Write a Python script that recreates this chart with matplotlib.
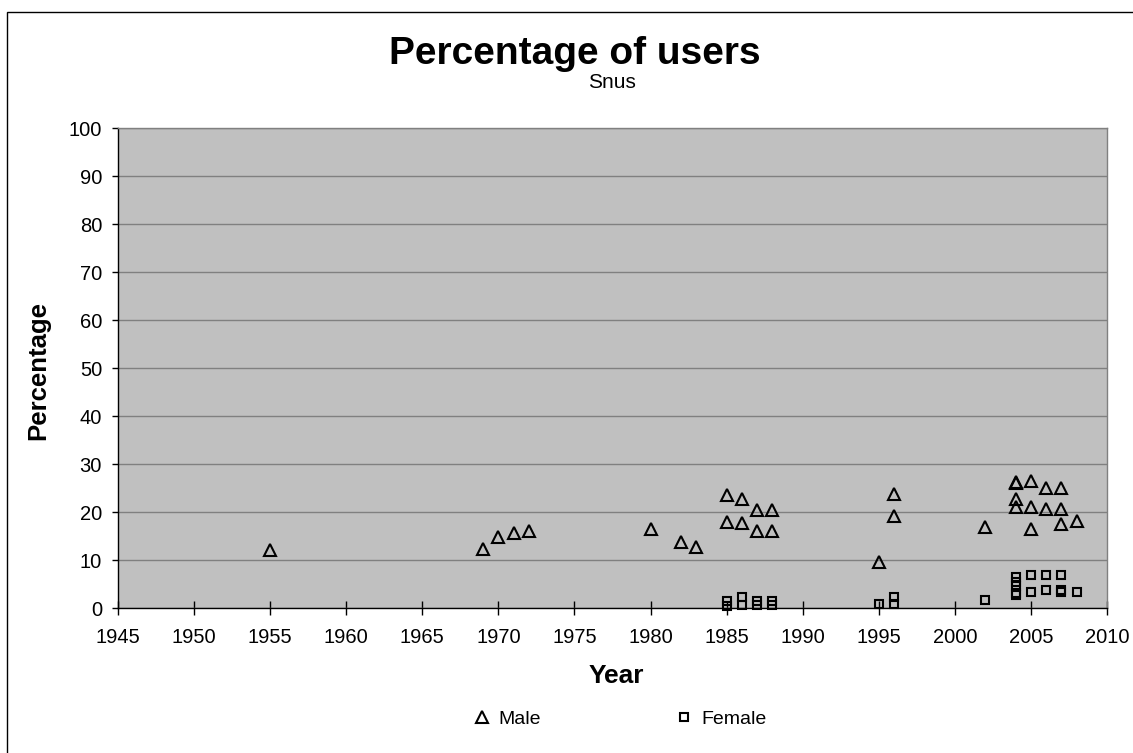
import matplotlib
matplotlib.use("Agg")
import matplotlib.pyplot as plt
from matplotlib.patches import Rectangle

plt.rcParams['font.family'] = ['Liberation Sans', 'DejaVu Sans']

male_years = [1955, 1969, 1970, 1971, 1972, 1980, 1982, 1983,
              1985, 1985, 1986, 1986, 1987, 1987, 1988, 1988,
              1995, 1996, 1996, 2002,
              2004, 2004, 2004, 2004, 2005, 2005, 2005,
              2006, 2006, 2007, 2007, 2007, 2008]
male_pct = [12.1, 12.2, 14.7, 15.6, 16.0, 16.4, 13.8, 12.8,
            23.5, 18.0, 22.7, 17.8, 20.4, 16.1, 20.4, 16.1,
            9.6, 23.8, 19.2, 16.8,
            26.0, 26.2, 22.7, 21.0, 26.5, 21.0, 16.5,
            25.1, 20.6, 25.1, 20.6, 17.6, 18.1]

female_years = [1985, 1985, 1986, 1986, 1987, 1987, 1988, 1988,
                1995, 1996, 1996, 2002,
                2004, 2004, 2004, 2004, 2004, 2005, 2005,
                2006, 2006, 2007, 2007, 2007, 2008]
female_pct = [1.5, 0.5, 2.2, 0.6, 1.5, 0.6, 1.5, 0.6,
              0.9, 2.3, 0.8, 1.7,
              6.4, 5.5, 4.5, 3.2, 2.8, 6.9, 3.4,
              6.9, 3.75, 6.9, 3.7, 3.3, 3.3]

x_ticks = list(range(1945, 2011, 5))
y_ticks = list(range(0, 101, 10))

W, H = 1133, 753
fig = plt.figure(figsize=(W / 100, H / 100), dpi=100)
ax = fig.add_axes([118 / W, 1 - 608 / H, 989 / W, 480 / H])
ax.set_facecolor('#C0C0C0')

ax.plot(male_years, male_pct, linestyle='none', marker='^', ms=9,
        mfc='none', mec='black', mew=1.5, label='Male', clip_on=False, zorder=3)
ax.plot(female_years, female_pct, linestyle='none', marker='s', ms=6.3,
        mfc='none', mec='black', mew=1.5, label='Female', clip_on=False, zorder=3)

ax.set_xlim(1945, 2010)
ax.set_ylim(0, 100)
ax.set_xticks(x_ticks)
ax.set_yticks(y_ticks)
ax.yaxis.grid(True, color='#808080', linewidth=1)
ax.set_axisbelow(True)

for s in ['top', 'right']:
    ax.spines[s].set_color('#808080')
    ax.spines[s].set_linewidth(1)
for s in ['left', 'bottom']:
    ax.spines[s].set_color('black')
    ax.spines[s].set_linewidth(1)

ax.tick_params(axis='x', direction='inout', length=9.5, width=1, pad=10,
               labelsize=14.5, colors='black')
ax.tick_params(axis='y', direction='out', length=4.5, width=1, pad=7,
               labelsize=14.5, colors='black')

fig.text(575 / W, 1 - 54 / H, 'Percentage of users', ha='center', va='center',
         fontsize=28, fontweight='bold')
fig.text(612 / W, 1 - 83 / H, 'Snus', ha='center', va='center', fontsize=15)
fig.text(616 / W, 1 - 676 / H, 'Year', ha='center', va='center',
         fontsize=19, fontweight='bold')
fig.text(38 / W, 1 - 371 / H, 'Percentage', ha='center', va='center',
         rotation=90, fontsize=18.5, fontweight='bold')

leg = fig.legend(loc='center', bbox_to_anchor=(620 / W, 1 - 719 / H), ncol=2,
                 frameon=False, fontsize=14, handlelength=0.8,
                 handletextpad=0.45, columnspacing=7, borderpad=0)

fig.add_artist(Rectangle((7 / W, -0.05), 1.1, 1 - 12 / H + 0.05,
                         transform=fig.transFigure, fill=False,
                         edgecolor='black', linewidth=1))

fig.savefig('out.png', dpi=100, facecolor='white')
